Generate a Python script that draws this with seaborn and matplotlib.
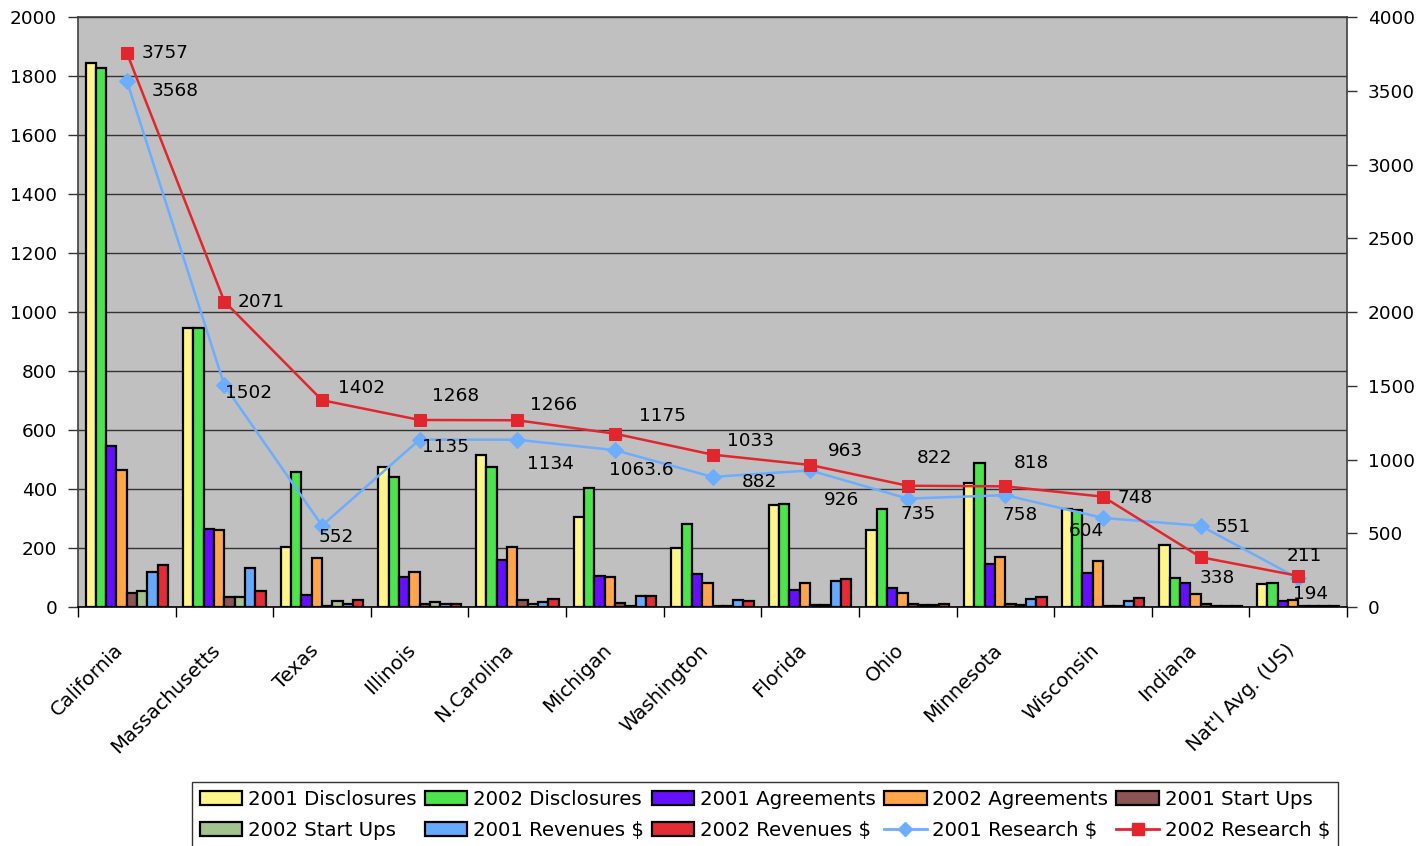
import numpy as np
import pandas as pd
import matplotlib
matplotlib.use("Agg")
import matplotlib.pyplot as plt
import seaborn as sns
from matplotlib.patches import Patch
from matplotlib.lines import Line2D
from matplotlib.ticker import FixedLocator, MultipleLocator

states = ["California", "Massachusetts", "Texas", "Illinois", "N.Carolina", "Michigan",
          "Washington", "Florida", "Ohio", "Minnesota", "Wisconsin", "Indiana", "Nat'l Avg. (US)"]

disc_2001 = [1845, 946, 202, 476, 514, 304, 200, 345, 262, 419, 331, 211, 77]
disc_2002 = [1828, 946, 457, 442, 474, 404, 282, 348, 332, 487, 329, 97, 82]
agree_2001 = [547, 264, 40, 101, 159, 105, 112, 58, 63, 146, 114, 82, 19]
agree_2002 = [463, 262, 165, 118, 202, 101, 82, 82, 48, 171, 157, 44, 24]
startups_2001 = [48, 33, 3, 10, 23, 15, 5, 8, 10, 10, 3, 10, 3]
startups_2002 = [55, 33, 20, 18, 10, 4, 2, 8, 8, 7, 3, 3, 2]
revenues_2001 = [120, 133, 10, 10, 18, 38, 25, 89, 8, 26, 21, 5, 5]
revenues_2002 = [142, 55, 23, 10, 27, 37, 21, 94, 10, 33, 31, 5, 5]

research_2001 = [3568, 1502, 552, 1135, 1134, 1063.6, 882, 926, 735, 758, 604, 551, 194]
research_2002 = [3757, 2071, 1402, 1268, 1266, 1175, 1033, 963, 822, 818, 748, 338, 211]
research_2001_labels = ["3568", "1502", "552", "1135", "1134", "1063.6", "882", "926",
                        "735", "758", "604", "551", "194"]
research_2002_labels = ["3757", "2071", "1402", "1268", "1266", "1175", "1033", "963",
                        "822", "818", "748", "338", "211"]

bar_series = ["2001 Disclosures", "2002 Disclosures", "2001 Agreements", "2002 Agreements",
              "2001 Start Ups", "2002 Start Ups", "2001 Revenues $", "2002 Revenues $"]
bar_values = [disc_2001, disc_2002, agree_2001, agree_2002,
              startups_2001, startups_2002, revenues_2001, revenues_2002]
bar_colors = ["#FFF58A", "#4CE34C", "#6410FF", "#FFA64D",
              "#8C5454", "#A4C28E", "#66AAFF", "#E32D36"]
line_colors = ["#6BAEFF", "#E1262E"]

# label offsets (pixels) for data labels -- styling only
off_2001 = [(48, -10), (24, -8), (14, -11), (26, -7), (33, -24), (26, -20), (47, -5),
            (31, -30), (10, -15), (15, -20), (-17, -13), (33, -1), (12, -16)]
off_2002 = [(38, 0), (37, 0), (40, 12), (36, 24), (36, 15), (48, 18), (38, 14),
            (35, 14), (27, 28), (26, 23), (32, -1), (17, -21), (6, 20)]

rows = []
for name, vals in zip(bar_series, bar_values):
    for st, v in zip(states, vals):
        rows.append({"state": st, "series": name, "value": v})
df = pd.DataFrame(rows)

plt.rcParams['font.family'] = ['DejaVu Sans']
FS = 13.3
FS_TXT = 14.2

W, H = 1421, 846
fig = plt.figure(figsize=(W / 100, H / 100), dpi=100)
L, R, T, B = 78, 1347, 17, 607
ax = fig.add_axes([L / W, 1 - B / H, (R - L) / W, (B - T) / H])
ax.set_facecolor("#C0C0C0")

sns.barplot(data=df, x="state", y="value", hue="series", hue_order=bar_series,
            palette=bar_colors, width=0.845, edgecolor="black", linewidth=1.6,
            saturation=1, ax=ax, legend=False, errorbar=None)

ax.set_xlim(-0.5, len(states) - 0.5)
ax.set_ylim(0, 2000)
ax.yaxis.set_major_locator(MultipleLocator(200))
ax.grid(axis="y", color="#333333", linewidth=1.0)
ax.set_axisbelow(True)
ax.set_xlabel("")
ax.set_ylabel("")

ax.set_xticks(np.arange(len(states)))
ax.set_xticklabels(states, rotation=45, ha="right", fontsize=FS_TXT)
ax.xaxis.set_minor_locator(FixedLocator(np.arange(-0.5, len(states), 1.0)))
ax.tick_params(axis="x", which="major", length=0, pad=24)
ax.tick_params(axis="x", which="minor", length=7, width=1, color="black")
ax.tick_params(axis="y", length=7, width=1, labelsize=FS, pad=8, color="#333333")
for s in ["left", "top", "right"]:
    ax.spines[s].set_color("#404040")
    ax.spines[s].set_linewidth(1.2)
ax.spines["bottom"].set_color("black")
ax.spines["bottom"].set_linewidth(1.2)

ax2 = ax.twinx()
xpos = np.arange(len(states))
sns.lineplot(x=xpos, y=research_2001, color=line_colors[0], marker="D", markersize=8,
             markeredgecolor=line_colors[0], linewidth=1.8, ax=ax2)
sns.lineplot(x=xpos, y=research_2002, color=line_colors[1], marker="s", markersize=9,
             markeredgecolor=line_colors[1], linewidth=1.8, ax=ax2)
ax2.set_ylim(0, 4000)
ax2.set_xlim(-0.5, len(states) - 0.5)
ax2.yaxis.set_major_locator(MultipleLocator(500))
ax2.tick_params(axis="y", length=7, width=1, labelsize=FS, pad=8, color="#333333")
for s in ax2.spines.values():
    s.set_visible(False)
ax2.set_ylabel("")

for i in range(len(states)):
    ax2.annotate(research_2002_labels[i], (xpos[i], research_2002[i]),
                 xytext=off_2002[i], textcoords="offset pixels",
                 ha="center", va="center", fontsize=FS, color="black")
    ax2.annotate(research_2001_labels[i], (xpos[i], research_2001[i]),
                 xytext=off_2001[i], textcoords="offset pixels",
                 ha="center", va="center", fontsize=FS, color="black")

handles = [Patch(facecolor=c, edgecolor="black", linewidth=1.6, label=n)
           for n, c in zip(bar_series, bar_colors)]
handles.append(Line2D([], [], color=line_colors[0], marker="D", markersize=7, linewidth=2,
                      label="2001 Research $"))
handles.append(Line2D([], [], color=line_colors[1], marker="s", markersize=8, linewidth=2,
                      label="2002 Research $"))
order = [0, 5, 1, 6, 2, 7, 3, 8, 4, 9]
hs = [handles[i] for i in order]
lx0, lx1, ly0 = 192, 1338, 782
leg = fig.legend(handles=hs, labels=[h.get_label() for h in hs], ncol=5,
                 loc="upper left", mode="expand",
                 bbox_to_anchor=(lx0 / W, 1 - ly0 / H, (lx1 - lx0) / W, 0.0),
                 fontsize=FS_TXT, frameon=True, fancybox=False, edgecolor="black",
                 handlelength=2.15, handleheight=0.72, handletextpad=0.3,
                 labelspacing=0.62, columnspacing=0.5, borderpad=0.4, borderaxespad=0)
leg.get_frame().set_linewidth(1.0)

fig.savefig("out.png", dpi=100, facecolor="white")
